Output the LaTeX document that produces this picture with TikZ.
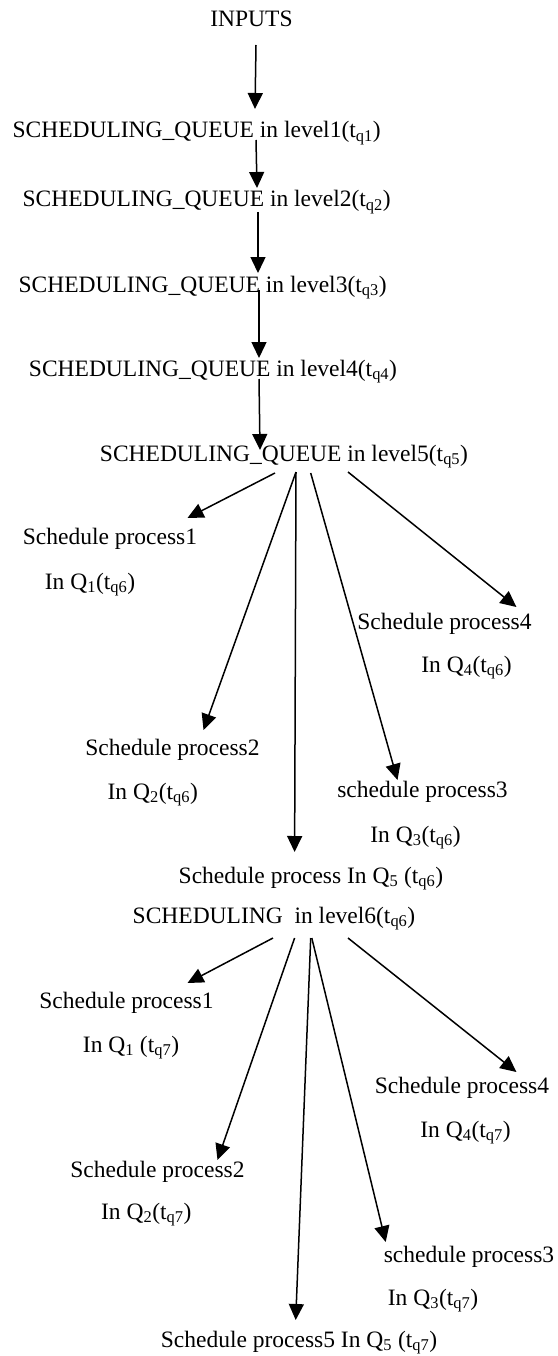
\documentclass[tikz,border=0pt]{standalone}
\usepackage{fontspec}
\setmainfont{Liberation Serif}
\usetikzlibrary{arrows.meta}
\newcommand\tsb[1]{\textsubscript{#1}}
\tikzset{
  lbl/.style={anchor=base, inner sep=0pt, font=\fontsize{23.5}{28}\selectfont},
  arr/.style={-{Triangle[length=16pt,width=15pt]}, line width=1.5pt}
}
\begin{document}
\begin{tikzpicture}[x=1pt,y=-1pt]
\path[use as bounding box] (0,0) rectangle (557,1356);
% chain
\node[lbl] (inputs) at (251.5,27) {INPUTS};
\node[lbl] (l1) at (196.6,138) {SCHEDULING\_QUEUE in level1(t\tsb{q1})};
\node[lbl] (l2) at (206.7,207) {SCHEDULING\_QUEUE in level2(t\tsb{q2})};
\node[lbl] (l3) at (202.6,292) {SCHEDULING\_QUEUE in level3(t\tsb{q3})};
\node[lbl] (l4) at (213,376) {SCHEDULING\_QUEUE in level4(t\tsb{q4})};
\node[lbl] (l5) at (284,461) {SCHEDULING\_QUEUE in level5(t\tsb{q5})};
% level 5 children
\node[lbl] (a1) at (110,544) {Schedule process1};
\node[lbl] (a1q) at (90,589) {In Q\tsb{1}(t\tsb{q6})};
\node[lbl] (a4) at (444.5,629) {Schedule process4};
\node[lbl] (a4q) at (466.5,672) {In Q\tsb{4}(t\tsb{q6})};
\node[lbl] (a2) at (172.5,755) {Schedule process2};
\node[lbl] (a2q) at (152.8,799) {In Q\tsb{2}(t\tsb{q6})};
\node[lbl] (a3) at (422.5,797) {schedule process3};
\node[lbl] (a3q) at (415.5,842) {In Q\tsb{3}(t\tsb{q6})};
\node[lbl] (a5) at (311,883) {Schedule process In Q\tsb{5} (t\tsb{q6})};
\node[lbl] (l6) at (274,923) {SCHEDULING\ \ in level6(t\tsb{q6})};
% level 6 children
\node[lbl] (b1) at (126.5,1008) {Schedule process1};
\node[lbl] (b1q) at (131,1052) {In Q\tsb{1} (t\tsb{q7})};
\node[lbl] (b4) at (462,1093) {Schedule process4};
\node[lbl] (b4q) at (465.5,1137) {In Q\tsb{4}(t\tsb{q7})};
\node[lbl] (b2) at (157.5,1177) {Schedule process2};
\node[lbl] (b2q) at (146.3,1219) {In Q\tsb{2}(t\tsb{q7})};
\node[lbl] (b3) at (469,1262) {schedule process3};
\node[lbl] (b3q) at (433,1305) {In Q\tsb{3}(t\tsb{q7})};
\node[lbl] (b5) at (299,1347) {Schedule process5 In Q\tsb{5} (t\tsb{q7})};
% connectors
\draw[arr] ([shift={(4.5,18)}]inputs.base) -- ([shift={(58.4,-29)}]l1.base);
\draw[arr] ([shift={(59.4,2)}]l1.base) -- ([shift={(50.3,-19)}]l2.base);
\draw[arr] ([shift={(51.3,5)}]l2.base) -- ([shift={(55.4,-19)}]l3.base);
\draw[arr] ([shift={(56.4,-2)}]l3.base) -- ([shift={(46,-18)}]l4.base);
\draw[arr] ([shift={(46,3)}]l4.base) -- ([shift={(-24,-11)}]l5.base);
\draw[arr] ([shift={(-9,12)}]l5.base) -- ([shift={(77.5,-26)}]a1.base);
\draw[arr] ([shift={(12,11)}]l5.base) -- ([shift={(31,-25)}]a2.base);
\draw[arr] ([shift={(12,11)}]l5.base) -- ([shift={(-16.4,-31)}]a5.base);
\draw[arr] ([shift={(26.7,12)}]l5.base) -- ([shift={(-25,-17)}]a3.base);
\draw[arr] ([shift={(64,11)}]l5.base) -- ([shift={(71.9,-22)}]a4.base);
\draw[arr] ([shift={(-1,15)}]l6.base) -- ([shift={(61,-25)}]b1.base);
\draw[arr] ([shift={(20.6,15)}]l6.base) -- ([shift={(60,-17)}]b2.base);
\draw[arr] ([shift={(36.7,15)}]l6.base) -- ([shift={(-3.3,-27)}]b5.base);
\draw[arr] ([shift={(37.8,15)}]l6.base) -- ([shift={(-83.3,-20)}]b3.base);
\draw[arr] ([shift={(74,15)}]l6.base) -- ([shift={(54.4,-21)}]b4.base);
\end{tikzpicture}
\end{document}
